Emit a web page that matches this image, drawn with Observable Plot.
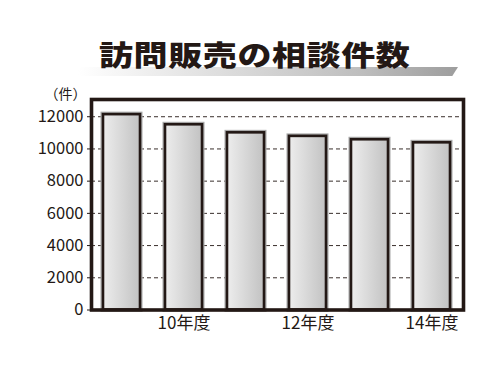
<!DOCTYPE html>
<html>
<head>
<meta charset="utf-8">
<script src="https://cdn.jsdelivr.net/npm/d3@7"></script>
<script src="https://cdn.jsdelivr.net/npm/@observablehq/plot@0.6"></script>
<style>
  html, body { margin: 0; padding: 0; background: #fff; }
  #wrap { position: relative; width: 500px; height: 375px; overflow: hidden; font-family: "Noto Sans CJK JP", sans-serif; }
  #title { position: absolute; left: 99px; top: 36px; font-size: 34px; line-height: 38px; font-weight: 900; letter-spacing: 0.6px; color: #231815; white-space: nowrap; z-index: 2; transform: scaleY(0.82); transform-origin: 0 50%; }
  #bar { position: absolute; left: 78px; top: 67px; width: 380px; height: 9px; background: linear-gradient(to right, #ffffff 0%, #e4e4e4 30%, #bdbdbd 75%, #9d9d9d 100%); clip-path: polygon(0 0, 100% 0, 98.5% 100%, 0 100%); z-index: 1; }
  #chart { position: absolute; left: 0; top: 0; }
</style>
</head>
<body>
<div id="wrap">
  <div id="bar"></div>
  <div id="title">訪問販売の相談件数</div>
  <div id="chart"></div>
</div>
<script>
const categories = ["09年度", "10年度", "11年度", "12年度", "13年度", "14年度"];
const values = [12130, 11500, 11000, 10780, 10570, 10380];
const xTickLabels = ["10年度", "12年度", "14年度"];
const yTicks = [0, 2000, 4000, 6000, 8000, 10000, 12000];
const unitLabel = "（件）";

const data = categories.map((c, i) => ({cat: c, v: values[i]}));
const ink = "#231815";

const svg = Plot.plot({
  width: 500,
  height: 375,
  marginLeft: 91,
  marginRight: 37,
  marginTop: 99,
  marginBottom: 65.5,
  style: {fontFamily: '"Noto Sans CJK JP", sans-serif', color: ink, background: "transparent"},
  x: {domain: categories, paddingInner: 0.4, paddingOuter: 0.2, axis: null},
  y: {domain: [0, 13070], axis: null},
  marks: [
    Plot.gridY(yTicks.filter(d => d > 0), {stroke: ink, strokeOpacity: 0.9, strokeWidth: 1, strokeDasharray: "4,3"}),
    Plot.barY(data, {x: "cat", y: "v", fill: "url(#barGrad)", stroke: "#a8a8a8", strokeWidth: 5}),
    Plot.barY(data, {x: "cat", y: "v", fill: "url(#barGrad)", stroke: ink, strokeWidth: 2.6}),
    Plot.frame({stroke: ink, strokeWidth: 3.6}),
    Plot.axisY(yTicks, {tickSize: 4, tickPadding: 4, fontSize: 16.5, tickFormat: d3.format("d"), stroke: ink, fill: ink, label: null}),
    Plot.axisX(xTickLabels, {tickSize: 0, tickPadding: 7, fontSize: 17, fill: ink, label: null}),
    Plot.text([unitLabel], {frameAnchor: "top-left", dx: -5, dy: -10, textAnchor: "end", fontSize: 14, fill: ink})
  ]
});

const defs = d3.select(svg).insert("defs", ":first-child");
const g = defs.append("linearGradient").attr("id", "barGrad").attr("x1", "0").attr("x2", "1").attr("y1", "0").attr("y2", "0");
g.append("stop").attr("offset", "0%").attr("stop-color", "#ededed");
g.append("stop").attr("offset", "100%").attr("stop-color", "#c2c2c2");

document.getElementById("chart").appendChild(svg);
</script>
</body>
</html>
